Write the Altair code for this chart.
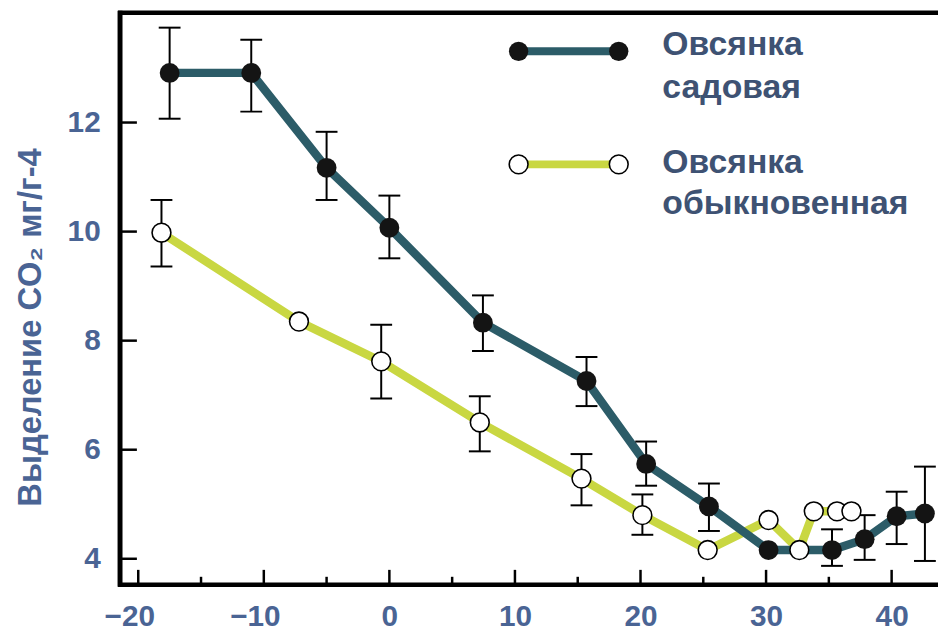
import altair as alt
import pandas as pd

# --- data ---
x_sad = [-17.5, -11.0, -5.0, 0.0, 7.45, 15.7, 20.45, 25.45, 30.2, 35.25, 37.85, 40.4, 42.65]
y_sad = [12.91, 12.91, 11.17, 10.07, 8.33, 7.26, 5.74, 4.96, 4.16, 4.16, 4.36, 4.78, 4.83]
lo_sad = [12.07, 12.2, 10.58, 9.51, 7.81, 6.8, 5.34, 4.51, None, 3.87, 3.98, 4.27, 3.96]
hi_sad = [13.74, 13.52, 11.83, 10.66, 8.83, 7.7, 6.15, 5.38, None, 4.54, 4.8, 5.23, 5.69]

x_obyk = [-18.15, -7.2, -0.65, 7.2, 15.3, 20.15, 25.35, 30.2, 32.65, 33.8, 35.65, 36.8]
y_obyk = [9.98, 8.35, 7.62, 6.5, 5.47, 4.8, 4.16, 4.71, 4.16, 4.87, 4.87, 4.87]
lo_obyk = [9.36, None, 6.94, 5.97, 4.98, 4.44, None, None, None, None, None, None]
hi_obyk = [10.58, None, 8.29, 6.98, 5.92, 5.18, None, None, None, None, None, None]

x_major = [-20, -10, 0, 10, 20, 30, 40]
x_minor = [-15, -5, 5, 15, 25, 35]
y_ticks = [4, 6, 8, 10, 12]

name_sad = ["Овсянка", "садовая"]
name_obyk = ["Овсянка", "обыкновенная"]
y_title = "Выделение CO₂ мг/г-4"

TEAL = "#2c5c68"
YELLOW = "#c9d742"
LABEL = "#4a6494"
LEGEND_TXT = "#3e5273"
FONT = "Liberation Sans"

sad = pd.DataFrame({"x": x_sad, "y": y_sad, "lo": lo_sad, "hi": hi_sad,
                    "i": list(range(len(x_sad)))})
obyk = pd.DataFrame({"x": x_obyk, "y": y_obyk, "lo": lo_obyk, "hi": hi_obyk,
                     "i": list(range(len(x_obyk)))})
err = pd.concat([sad, obyk]).dropna(subset=["lo", "hi"])

xs = alt.Scale(domain=[-21.45, 43.14], nice=False, zero=False)
ys = alt.Scale(domain=[3.524, 14.015], nice=False, zero=False)

X = alt.X("x:Q", scale=xs, axis=alt.Axis(
    values=x_major, title=None, domain=False, ticks=False, tickSize=0,
    grid=False, format="d", labelFont=FONT, labelFontSize=30, labelFontWeight="bold",
    labelColor=LABEL, labelPadding=17,
    labelOffset={"condition": {"test": "datum.value < 0", "value": -9}, "value": 0}))
Y = alt.Y("y:Q", scale=ys, axis=alt.Axis(
    values=y_ticks, title=y_title, domain=False, ticks=False, tickSize=0,
    grid=False, format="d", labelFont=FONT, labelFontSize=30, labelFontWeight="bold",
    labelColor=LABEL, labelPadding=20,
    titleFont=FONT, titleFontSize=33, titleFontWeight="bold", titleColor=LABEL,
    titleAngle=270, titleAlign="center", titleBaseline="alphabetic",
    titleX=-80, titleY=317))

line_obyk = alt.Chart(obyk).mark_line(color=YELLOW, strokeWidth=8.5).encode(
    x=X, y=Y, order="i:Q")
line_sad = alt.Chart(sad).mark_line(color=TEAL, strokeWidth=8.5).encode(
    x="x:Q", y="y:Q", order="i:Q")

err_rule = alt.Chart(err).mark_rule(color="black", strokeWidth=2).encode(
    x="x:Q", y="lo:Q", y2="hi:Q")
cap_lo = alt.Chart(err).mark_tick(color="black", thickness=2, size=22,
                                  orient="horizontal", opacity=1).encode(
    x="x:Q", y="lo:Q")
cap_hi = alt.Chart(err).mark_tick(color="black", thickness=2, size=22,
                                  orient="horizontal", opacity=1).encode(
    x="x:Q", y="hi:Q")

dots_sad = alt.Chart(sad).mark_circle(color="#141414", size=400, opacity=1).encode(
    x="x:Q", y="y:Q")
dots_obyk = alt.Chart(obyk).mark_point(shape="circle", filled=True, fill="white",
                                       stroke="black", strokeWidth=1.6,
                                       size=360, opacity=1).encode(
    x="x:Q", y="y:Q")

# inward axis ticks
ytick_df = pd.DataFrame({"y": y_ticks})
xmaj_df = pd.DataFrame({"x": x_major})
xmin_df = pd.DataFrame({"x": x_minor})
yt = alt.Chart(ytick_df).mark_rule(color="black", strokeWidth=2.5).encode(
    y="y:Q", x=alt.value(0), x2=alt.value(17))
xt_maj = alt.Chart(xmaj_df).mark_rule(color="black", strokeWidth=2.5).encode(
    x="x:Q", y=alt.value(577), y2=alt.value(562))
xt_min = alt.Chart(xmin_df).mark_rule(color="black", strokeWidth=2.5).encode(
    x="x:Q", y=alt.value(577), y2=alt.value(569))

one = pd.DataFrame({"a": [1]})
base = alt.Chart(one)
frame_top = base.mark_rule(color="black", strokeWidth=4.5).encode(
    x=alt.value(-2), x2=alt.value(830), y=alt.value(0))
frame_left = base.mark_rule(color="black", strokeWidth=5).encode(
    x=alt.value(0), y=alt.value(-2), y2=alt.value(579))
frame_bottom = base.mark_rule(color="black", strokeWidth=4.5).encode(
    x=alt.value(-2), x2=alt.value(830), y=alt.value(577))

# legend
lg_line1 = base.mark_rule(color=TEAL, strokeWidth=8).encode(
    x=alt.value(402), x2=alt.value(503), y=alt.value(39))
lg_d1a = base.mark_circle(color="#141414", size=380, opacity=1).encode(
    x=alt.value(402), y=alt.value(39))
lg_d1b = base.mark_circle(color="#141414", size=380, opacity=1).encode(
    x=alt.value(503), y=alt.value(39))
lg_line2 = base.mark_rule(color=YELLOW, strokeWidth=8).encode(
    x=alt.value(402), x2=alt.value(503), y=alt.value(153))
lg_d2a = base.mark_point(shape="circle", filled=True, fill="white", stroke="black",
                         strokeWidth=1.6, size=360, opacity=1).encode(
    x=alt.value(402), y=alt.value(153))
lg_d2b = base.mark_point(shape="circle", filled=True, fill="white", stroke="black",
                         strokeWidth=1.6, size=360, opacity=1).encode(
    x=alt.value(503), y=alt.value(153))

def lg_text(t, yy):
    return base.mark_text(align="left", baseline="alphabetic", font=FONT,
                          fontSize=34, fontWeight="bold", color=LEGEND_TXT).encode(
        x=alt.value(547), y=alt.value(yy), text=alt.value(t))

texts = [lg_text(name_sad[0], 43), lg_text(name_sad[1], 86),
         lg_text(name_obyk[0], 162), lg_text(name_obyk[1], 203)]

chart = alt.layer(
    line_obyk, line_sad, err_rule, cap_lo, cap_hi, dots_sad, dots_obyk,
    yt, xt_maj, xt_min, frame_top, frame_left, frame_bottom,
    lg_line1, lg_d1a, lg_d1b, lg_line2, lg_d2a, lg_d2b, *texts
).properties(
    width=818, height=577,
    autosize=alt.AutoSizeParams(type="none"),
    padding={"left": 113, "top": 2, "right": 7, "bottom": 47},
    background="white",
).configure_view(stroke="transparent")

chart.save("out.html", embed_options={"renderer": "svg", "actions": False})
